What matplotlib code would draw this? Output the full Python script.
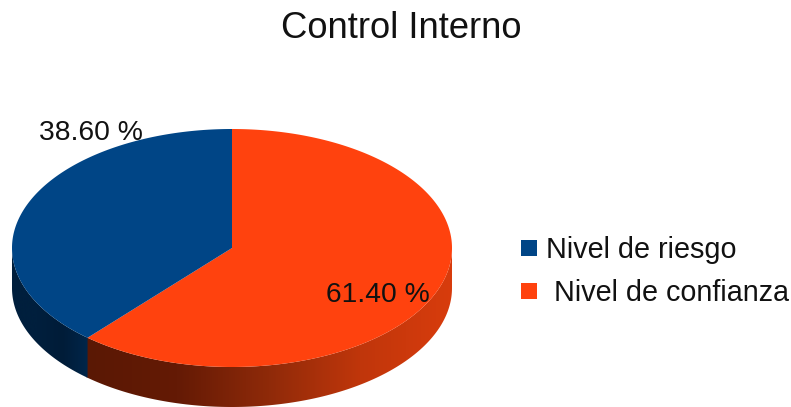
import numpy as np
import matplotlib
matplotlib.use("Agg")
import matplotlib.pyplot as plt
from matplotlib.colors import LinearSegmentedColormap
from matplotlib.patches import Polygon, Rectangle

plt.rcParams['font.family'] = ['Liberation Sans', 'DejaVu Sans']

title = "Control Interno"
categories = ["Nivel de riesgo", "Nivel de confianza"]
values = [38.60, 61.40]
value_labels = ["38.60 %", "61.40 %"]
colors = ["#004586", "#ff420e"]

# pie geometry in image pixels
cx, cy = 232, 248
rx, ry = 220, 119
depth = 40


def rim(a0, a1, n=300):
    # angles are clockwise from the top of the pie
    t = np.radians(np.linspace(a0, a1, n))
    return cx + rx * np.sin(t), cy - ry * np.cos(t)


def side_wall(ax, a0, a1, shades):
    # side wall, shaded by clipping a horizontal gradient
    xs, ys = rim(a0, a1)
    wall = np.r_[np.c_[xs, ys], np.c_[xs, ys + depth][::-1]]
    poly = Polygon(wall, closed=True, fc="none", ec="none")
    ax.add_patch(poly)
    cm = LinearSegmentedColormap.from_list("wall", shades)
    im = ax.imshow(np.linspace(0, 1, 256)[None, :], cmap=cm, aspect="auto",
                   extent=[xs.min(), xs.max(), 407, 0], zorder=1)
    im.set_clip_path(poly)


fig = plt.figure(figsize=(7.91, 4.07), dpi=100)
ax = fig.add_axes([0, 0, 1, 1])
ax.axis("off")

split = values[1] / sum(values) * 360

side_wall(ax, 90, split + 0.4, ["#5a1804", "#641a05", "#8f2a09", "#c0360b", "#d83c0d"])
side_wall(ax, split, 270, ["#001f3d", "#001f3d", "#001c38", "#00264a"])

ax.set_xlim(0, 791)
ax.set_ylim(407, 0)

# top face
xs, ys = rim(0, split)
ax.fill(np.r_[cx, xs], np.r_[cy, ys], color=colors[1], lw=0, zorder=2)
xs, ys = rim(split, 360)
ax.fill(np.r_[cx, xs], np.r_[cy, ys], color=colors[0], lw=0, zorder=2)

ax.text(91, 132.5, value_labels[0], fontsize=20.3, ha="center", va="center", color="#111111", zorder=3)
ax.text(378, 294.5, value_labels[1], fontsize=20.3, ha="center", va="center", color="#111111", zorder=3)

ax.text(401, 29, title, fontsize=26.2, ha="center", va="center", color="#111111")

# legend
ax.add_patch(Rectangle((521, 240), 16, 16, fc=colors[0], ec="none"))
ax.add_patch(Rectangle((521, 283), 16, 16, fc=colors[1], ec="none"))
ax.text(546, 250, categories[0], fontsize=20.7, ha="left", va="center", color="#111111")
ax.text(554, 293, categories[1], fontsize=20.7, ha="left", va="center", color="#111111")

fig.savefig("out.png", dpi=100)
